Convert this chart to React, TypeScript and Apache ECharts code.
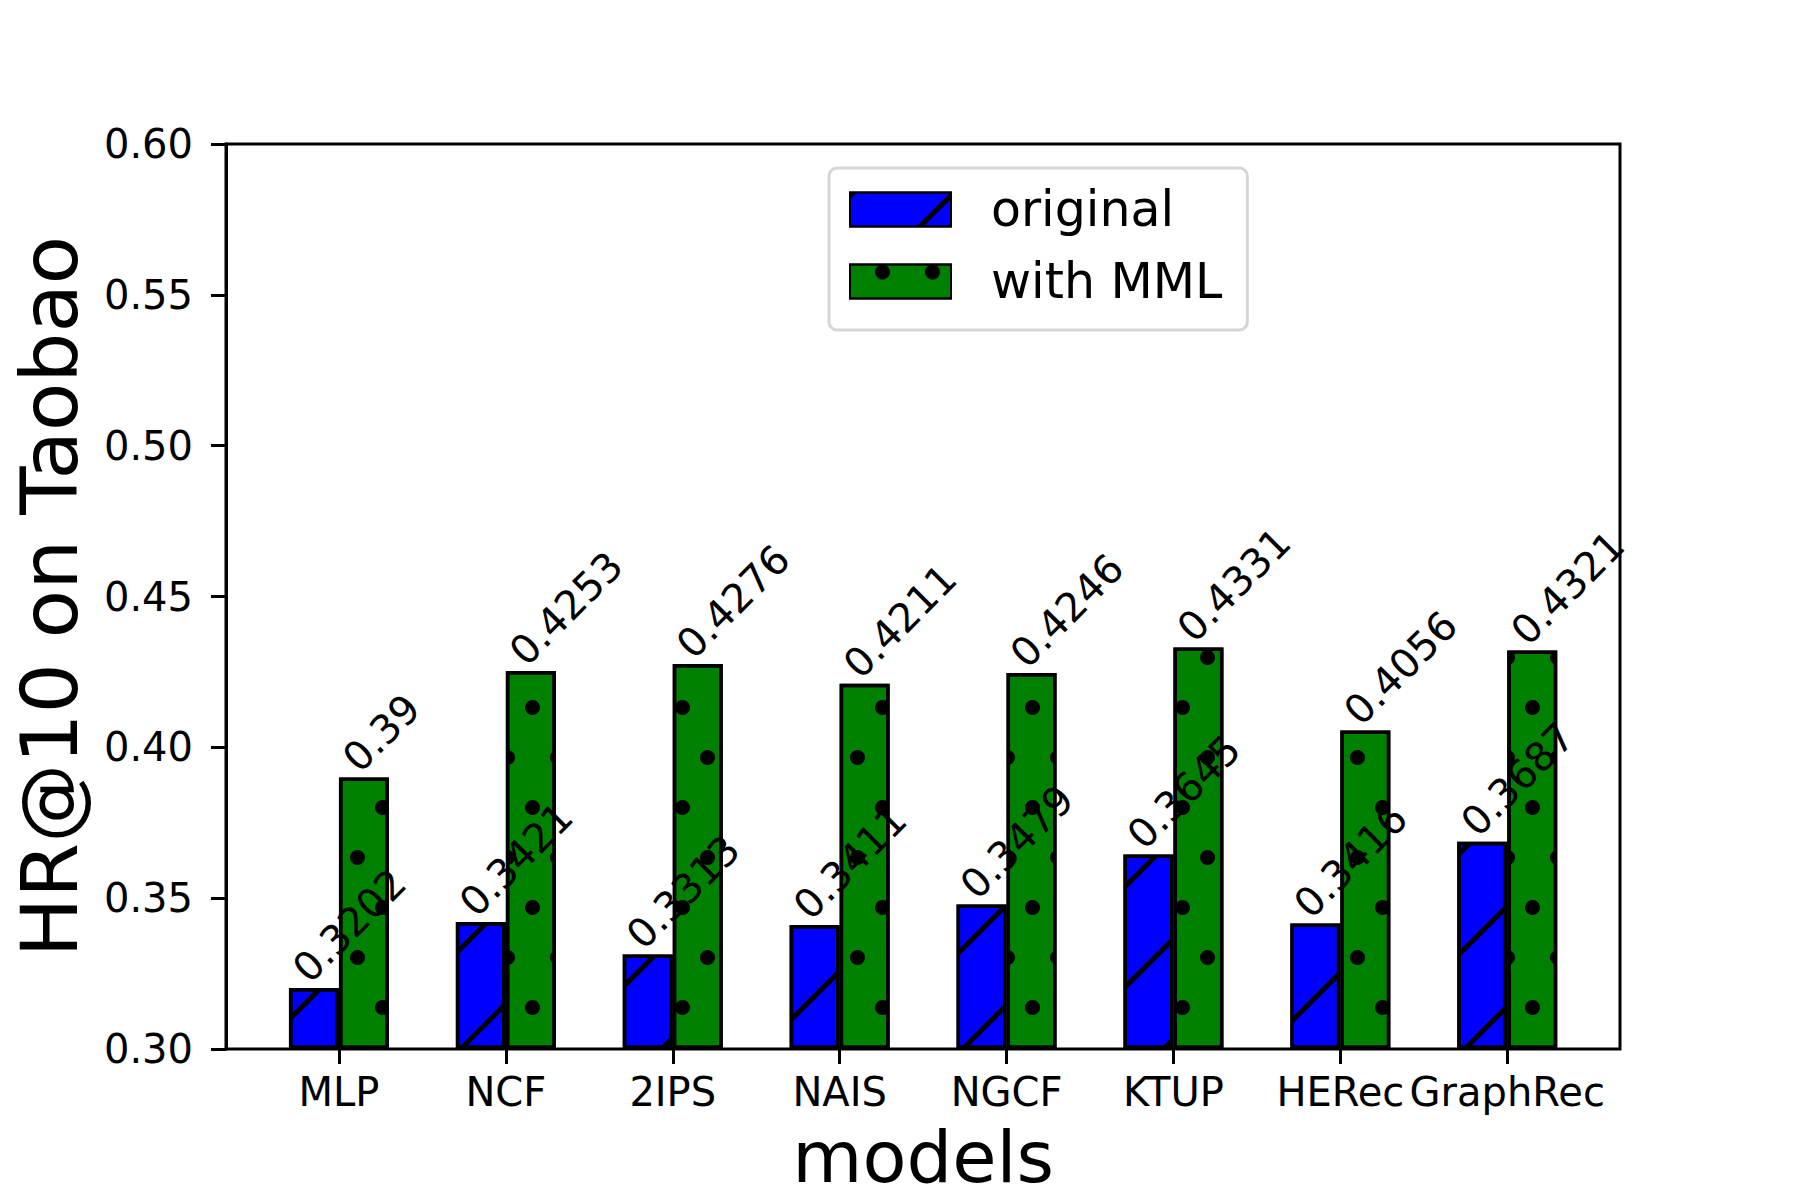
import React, { useEffect, useRef } from "react";
import * as echarts from "echarts";

const categories = ["MLP", "NCF", "2IPS", "NAIS", "NGCF", "KTUP", "HERec", "GraphRec"];
const originalValues = [0.3202, 0.3421, 0.3313, 0.3411, 0.3479, 0.3645, 0.3416, 0.3687];
const mmlValues = [0.39, 0.4253, 0.4276, 0.4211, 0.4246, 0.4331, 0.4056, 0.4321];
const seriesNames = ["original", "with MML"];
const yMin = 0.3;
const yMax = 0.6;
const yStep = 0.05;

const FONT = "DejaVu Sans";

const barLabel = {
  show: true,
  position: [25, 1],
  rotate: 45,
  align: "left",
  verticalAlign: "bottom",
  fontSize: 40,
  color: "#000",
  fontFamily: FONT,
  formatter: (p: any) => String(p.value),
};

export default function App() {
  const ref = useRef<HTMLDivElement>(null);
  useEffect(() => {
    document.body.style.margin = "0";
    const chart = echarts.init(ref.current!, null, { renderer: "svg" });
    const option: any = {
      animation: false,
      backgroundColor: "#fff",
      textStyle: { fontFamily: FONT },
      grid: [
        { left: 255.5, right: 209.3, top: 144, bottom: 151, outerBoundsMode: "none", containLabel: false },
        {
          left: 226,
          right: 180,
          top: 144,
          bottom: 151,
          outerBoundsMode: "none",
          containLabel: false,
          show: true,
          borderColor: "#000",
          borderWidth: 3,
          backgroundColor: "transparent",
        },
      ],
      xAxis: [
        {
          type: "category",
          gridIndex: 0,
          data: categories,
          axisLine: { show: false },
          axisTick: { show: true, alignWithLabel: true, length: 15, lineStyle: { width: 3, color: "#000" } },
          axisLabel: { fontSize: 40, color: "#000", margin: 23, interval: 0, fontFamily: FONT },
          name: "models",
          nameLocation: "middle",
          nameGap: 72,
          nameMoveOverlap: false,
          nameTextStyle: { fontSize: 72, lineHeight: 72, color: "#000", fontFamily: FONT },
        },
        { type: "value", gridIndex: 1, show: false, min: 0, max: 1 },
      ],
      yAxis: [
        { type: "value", gridIndex: 0, min: yMin, max: yMax, startValue: yMin, show: false },
        {
          type: "value",
          gridIndex: 1,
          min: yMin,
          max: yMax,
          interval: yStep,
          axisLine: { show: true, lineStyle: { color: "#000", width: 3 } },
          axisTick: { show: true, length: 15, lineStyle: { width: 3, color: "#000" } },
          axisLabel: {
            fontSize: 40,
            color: "#000",
            margin: 33,
            fontFamily: FONT,
            formatter: (v: number) => v.toFixed(2),
          },
          splitLine: { show: false },
          name: "HR@10 on Taobao",
          nameLocation: "middle",
          nameGap: 136,
          nameMoveOverlap: false,
          nameRotate: 90,
          nameTextStyle: { fontSize: 79, lineHeight: 80, color: "#000", fontFamily: FONT },
        },
      ],
      legend: {
        orient: "vertical",
        left: 829,
        top: 168,
        padding: [17, 25, 24, 20],
        itemWidth: 101,
        itemHeight: 34,
        itemGap: 23,
        borderColor: "#d6d6d6",
        borderWidth: 3,
        borderRadius: 8,
        backgroundColor: "#fff",
        icon: "rect",
        data: seriesNames,
        textStyle: { fontSize: 49, color: "#000", fontFamily: FONT, padding: [0, 0, 0, 35] },
      },
      series: [
        {
          name: seriesNames[0],
          type: "bar",
          xAxisIndex: 0,
          yAxisIndex: 0,
          data: originalValues,
          barWidth: 50,
          barGap: "0%",
          itemStyle: {
            color: "#0000ff",
            borderColor: "#000",
            borderWidth: 3.5,
            decal: {
              symbol: "rect",
              symbolSize: 1,
              color: "#000",
              backgroundColor: null,
              dashArrayX: [71, 0],
              dashArrayY: [5, 66],
              rotation: -Math.PI / 4,
            },
          },
          label: barLabel,
        },
        {
          name: seriesNames[1],
          type: "bar",
          xAxisIndex: 0,
          yAxisIndex: 0,
          data: mmlValues,
          barWidth: 50,
          barGap: "0%",
          itemStyle: {
            color: "#008000",
            borderColor: "#000",
            borderWidth: 3.5,
            decal: {
              symbol: "circle",
              symbolSize: 1,
              color: "#000",
              backgroundColor: null,
              dashArrayX: [[15, 35], [0, 25, 15, 10]],
              dashArrayY: [15, 35],
              rotation: 0,
            },
          },
          label: barLabel,
        },
      ],
    };
    chart.setOption(option);
    return () => chart.dispose();
  }, []);
  return <div ref={ref} style={{ width: 1800, height: 1200 }} />;
}
